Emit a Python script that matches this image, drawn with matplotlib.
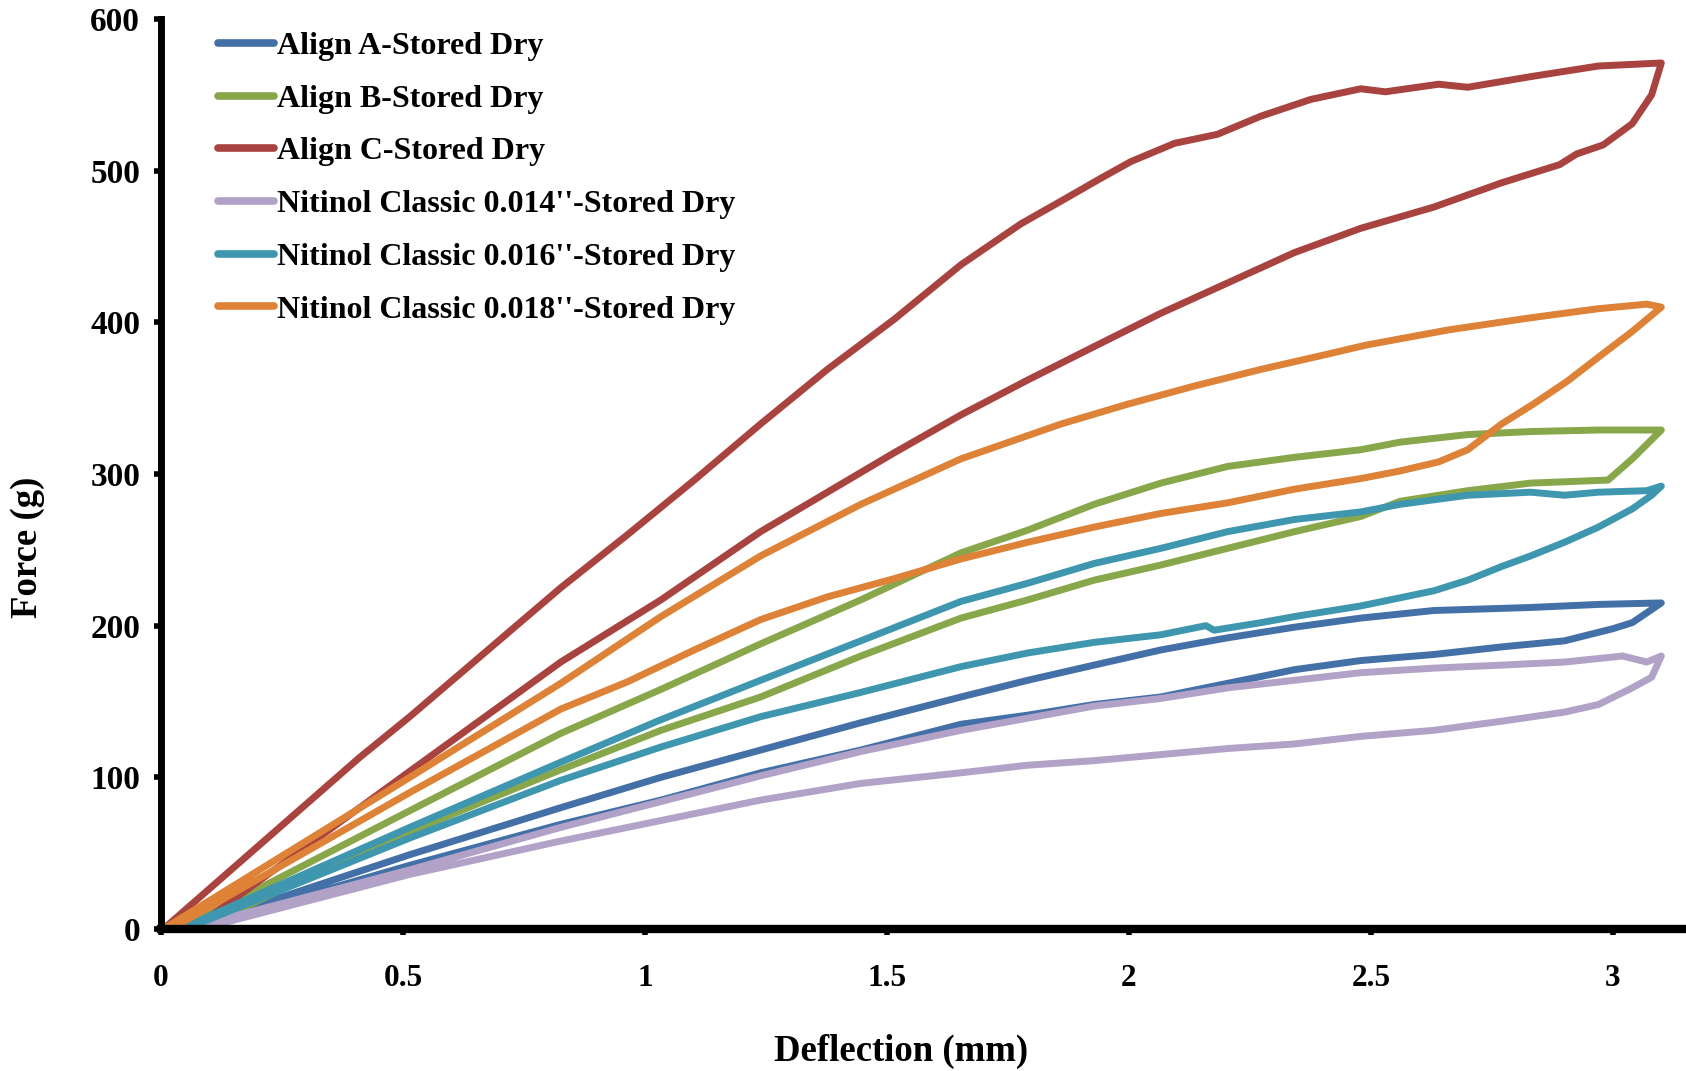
import matplotlib
matplotlib.use("Agg")
import matplotlib.pyplot as plt

plt.rcParams['font.family'] = ['Liberation Serif', 'DejaVu Serif']
plt.rcParams['font.weight'] = 'bold'

# Loops: loading branch out to ~3.1 mm, then unloading branch back
align_a_x = [0.05, 0.514, 0.826, 1.033, 1.239, 1.446, 1.653, 1.791, 1.928, 2.066, 2.204, 2.342,
             2.479, 2.63, 2.83, 2.97, 3.10,
             3.04, 3.00, 2.90, 2.77, 2.63, 2.479, 2.342, 2.204, 2.066, 1.928, 1.791, 1.653,
             1.446, 1.239, 1.033, 0.826, 0.514, 0.06]
align_a_f = [0, 49, 80, 100, 118, 136, 153, 164, 174, 184, 192, 199,
             205, 210, 212, 214, 215,
             202, 198, 190, 186, 181, 177, 171, 162, 153, 148, 141, 135,
             118, 103, 85, 69, 42, 0]

align_b_x = [0.04, 0.514, 0.826, 1.033, 1.239, 1.446, 1.653, 1.791, 1.928, 2.066, 2.204, 2.342,
             2.479, 2.56, 2.70, 2.83, 2.97, 3.10,
             3.04, 2.99, 2.83, 2.70, 2.56, 2.479, 2.342, 2.204, 2.066, 1.928, 1.791, 1.653,
             1.446, 1.239, 1.033, 0.826, 0.39, 0.08]
align_b_f = [0, 78, 129, 158, 188, 217, 248, 263, 280, 294, 305, 311,
             316, 321, 326, 328, 329, 329,
             310, 296, 294, 289, 282, 272, 262, 251, 240, 230, 217, 205,
             180, 153, 131, 105, 48, 0]

align_c_x = [0.005, 0.41, 0.514, 0.826, 0.964, 1.102, 1.239, 1.377, 1.515, 1.653, 1.777, 1.860,
             1.942, 2.004, 2.094, 2.183, 2.273, 2.376, 2.479, 2.53, 2.64, 2.70, 2.83, 2.97, 3.10,
             3.08, 3.04, 2.98, 2.925, 2.89, 2.77, 2.63, 2.479, 2.342, 2.204, 2.066, 1.928,
             1.791, 1.653, 1.515, 1.377, 1.239, 1.033, 0.826, 0.514, 0.066]
align_c_f = [0, 113, 140, 225, 260, 296, 333, 369, 402, 438, 465, 480,
             495, 506, 518, 524, 536, 547, 554, 552, 557, 555, 562, 569, 571,
             550, 531, 517, 511, 504, 492, 476, 462, 446, 426, 406, 384,
             362, 339, 314, 288, 262, 217, 176, 104, 0]

niti14_x = [0.05, 0.514, 0.826, 1.033, 1.239, 1.446, 1.653, 1.791, 1.928, 2.066, 2.204, 2.342,
            2.479, 2.63, 2.77, 2.90, 3.02, 3.07, 3.10,
            3.08, 3.04, 2.97, 2.90, 2.77, 2.63, 2.479, 2.342, 2.204, 2.066, 1.928, 1.791,
            1.653, 1.446, 1.239, 0.964, 0.826, 0.514, 0.08]
niti14_f = [0, 39, 67, 84, 101, 117, 131, 139, 147, 152, 159, 164,
            169, 172, 174, 176, 180, 176, 180,
            166, 159, 148, 143, 137, 131, 127, 122, 119, 115, 111, 108,
            103, 96, 85, 67, 58, 36, 0]

niti16_x = [0.04, 0.514, 0.826, 1.033, 1.239, 1.446, 1.653, 1.791, 1.928, 2.066, 2.204, 2.342,
            2.479, 2.56, 2.70, 2.83, 2.90, 2.97, 3.07, 3.10,
            3.08, 3.04, 2.97, 2.90, 2.83, 2.77, 2.70, 2.63, 2.479, 2.342, 2.273, 2.176, 2.159,
            2.066, 1.928, 1.791, 1.653, 1.446, 1.239, 1.033, 0.826, 0.514, 0.05]
niti16_f = [0, 67, 110, 138, 164, 190, 216, 228, 241, 251, 262, 270,
            275, 280, 286, 288, 286, 288, 289, 292,
            286, 277, 265, 255, 246, 239, 230, 223, 213, 206, 202, 197, 200,
            194, 189, 182, 173, 156, 140, 120, 98, 60, 0]

niti18_x = [0.005, 0.514, 0.826, 1.033, 1.239, 1.446, 1.653, 1.860, 1.997, 2.135, 2.273, 2.410,
            2.49, 2.66, 2.83, 2.97, 3.07, 3.10,
            3.04, 2.97, 2.905, 2.835, 2.77, 2.70, 2.64, 2.56, 2.479, 2.342, 2.204, 2.066,
            1.928, 1.791, 1.653, 1.515, 1.377, 1.239, 1.102, 0.964, 0.826, 0.514, 0.02]
niti18_f = [0, 100, 162, 206, 246, 280, 310, 333, 346, 358, 369, 379,
            385, 395, 403, 409, 412, 410,
            394, 377, 361, 346, 333, 316, 308, 302, 297, 290, 281, 274,
            265, 255, 244, 231, 219, 204, 184, 163, 145, 90, 0]

labels = ["Align A-Stored Dry", "Align B-Stored Dry", "Align C-Stored Dry",
          "Nitinol Classic 0.014''-Stored Dry", "Nitinol Classic 0.016''-Stored Dry",
          "Nitinol Classic 0.018''-Stored Dry"]
colors = ["#4470A8", "#88A64A", "#A9433F", "#B3A2C8", "#3E97AF", "#DD8236"]

series = [(align_a_x, align_a_f), (align_b_x, align_b_f), (align_c_x, align_c_f),
          (niti14_x, niti14_f), (niti16_x, niti16_f), (niti18_x, niti18_f)]

fig = plt.figure(figsize=(16.86, 10.71), dpi=100)
ax = fig.add_axes([161/1686, 1 - 929/1071, (1686 - 161)/1686, (929 - 19)/1071])

for (x, f), lab, c in zip(series, labels, colors):
    ax.plot(x, f, color=c, lw=5, label=lab, solid_joinstyle='round')

ax.set_xlim(0, 3.151)
ax.set_ylim(0, 600)
ax.set_xticks([0, 0.5, 1, 1.5, 2, 2.5, 3])
ax.set_xticklabels(["0", "0.5", "1", "1.5", "2", "2.5", "3"])
ax.set_yticks(range(0, 601, 100))

for s in ['top', 'right']:
    ax.spines[s].set_visible(False)
ax.spines['left'].set_linewidth(5)
ax.spines['bottom'].set_linewidth(6)
ax.tick_params(axis='x', direction='out', length=4, width=4, pad=21, labelsize=22.5)
ax.tick_params(axis='y', direction='out', length=5, width=4, pad=10, labelsize=24)

fig.text(901/1686, 1 - 1051/1071, "Deflection (mm)", ha='center', va='center',
         fontsize=26.5, fontweight='bold')
fig.text(28/1686, 1 - 547/1071, "Force (g)", ha='center', va='center', rotation=90,
         fontsize=26.5, fontweight='bold')

leg = ax.legend(loc='upper left', bbox_to_anchor=(0.029, 1.0), borderaxespad=0,
                frameon=False, fontsize=23, handlelength=1.75, handletextpad=0.1,
                labelspacing=0.73)
for h in leg.get_lines():
    h.set_linewidth(5.5)
    h.set_solid_capstyle('round')

fig.savefig("out.png", dpi=100)
